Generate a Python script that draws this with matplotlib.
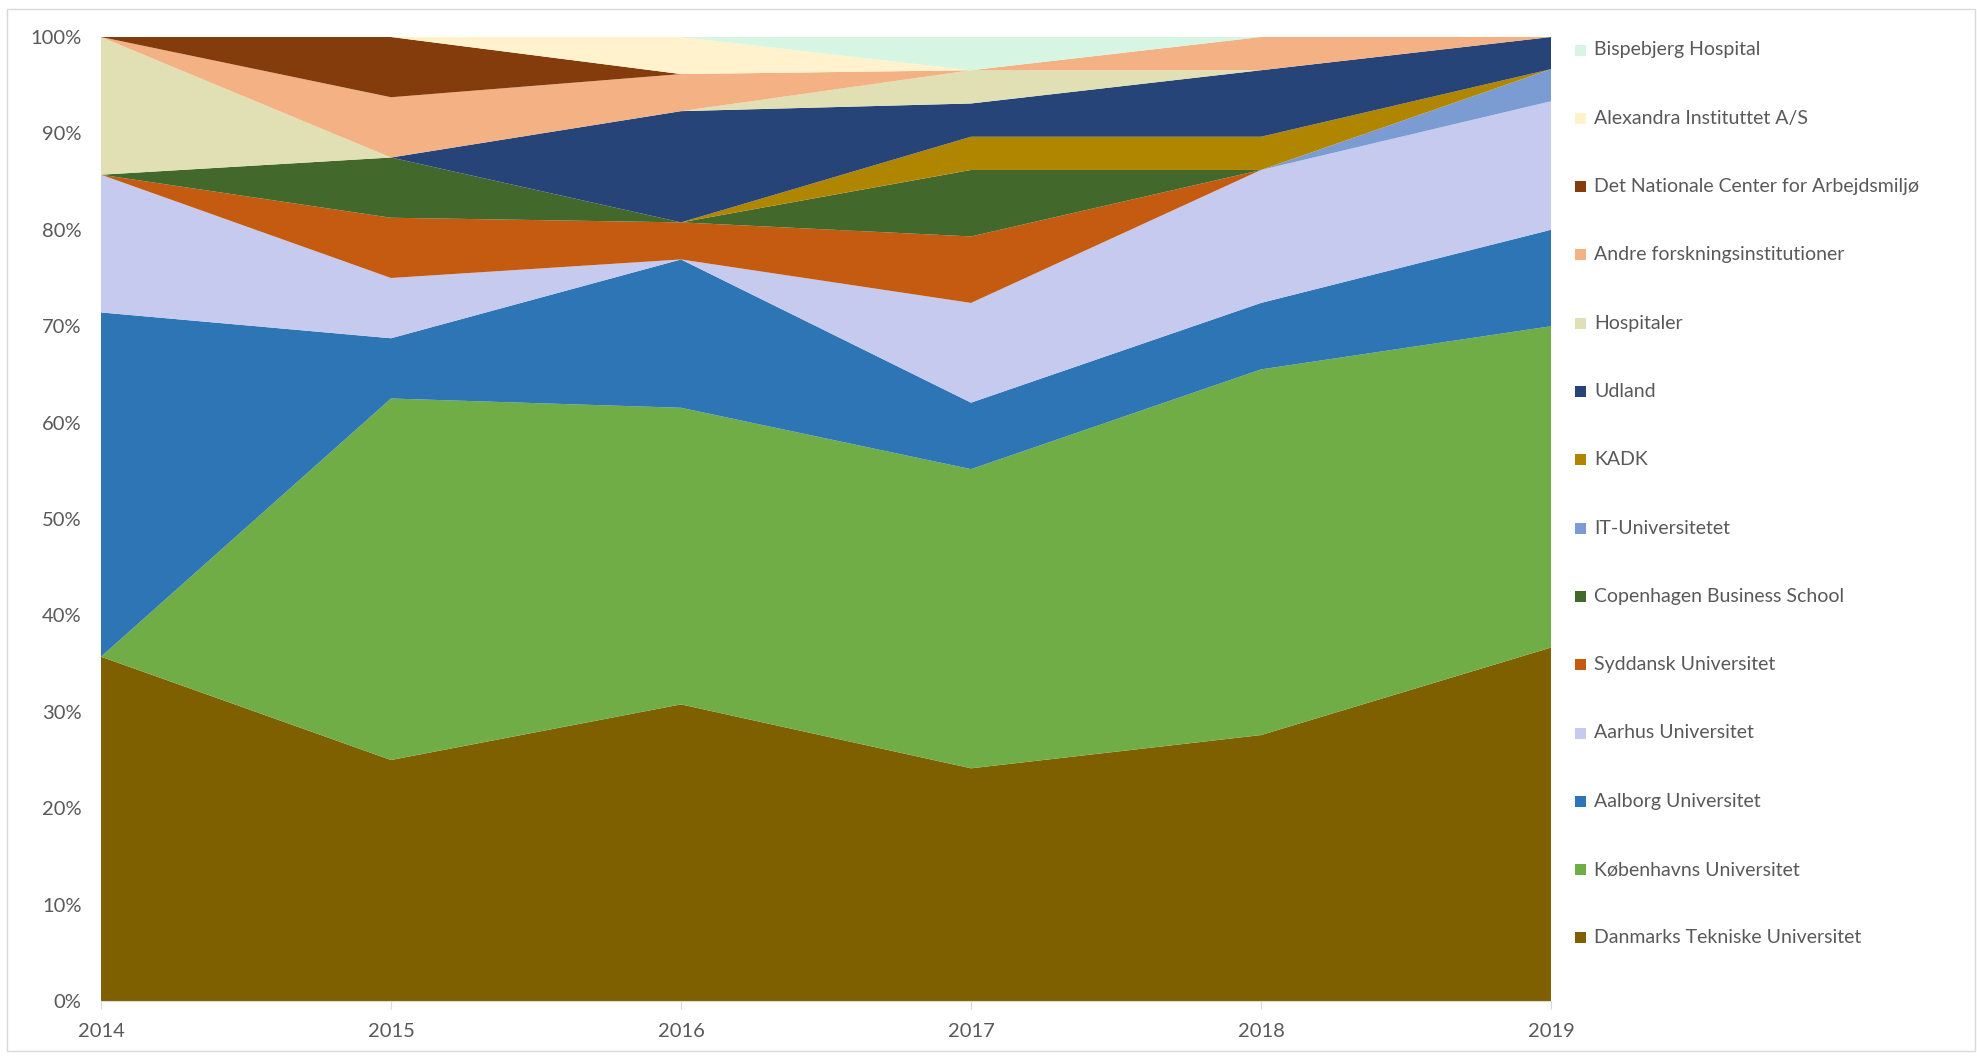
import numpy as np
import matplotlib.pyplot as plt
import matplotlib as mpl
from matplotlib.patches import Rectangle

mpl.rcParams['font.family'] = ['Lato', 'DejaVu Sans']

years = [2014, 2015, 2016, 2017, 2018, 2019]

# series, bottom to top of the stack (counts per year)
series_names = [
    "Danmarks Tekniske Universitet",
    "Københavns Universitet",
    "Aalborg Universitet",
    "Aarhus Universitet",
    "Syddansk Universitet",
    "Copenhagen Business School",
    "IT-Universitetet",
    "KADK",
    "Udland",
    "Hospitaler",
    "Andre forskningsinstitutioner",
    "Det Nationale Center for Arbejdsmiljø",
    "Alexandra Instituttet A/S",
    "Bispebjerg Hospital",
]
dtu        = [5, 4, 8, 7, 8, 11]
ku         = [0, 6, 8, 9, 11, 10]
aalborg    = [5, 1, 4, 2, 2, 3]
aarhus     = [2, 1, 0, 3, 4, 4]
sdu        = [0, 1, 1, 2, 0, 0]
cbs        = [0, 1, 0, 2, 0, 0]
itu        = [0, 0, 0, 0, 0, 1]
kadk       = [0, 0, 0, 1, 1, 0]
udland     = [0, 0, 3, 1, 2, 1]
hospitaler = [2, 0, 0, 1, 0, 0]
andre      = [0, 1, 1, 0, 1, 0]
nfa        = [0, 1, 0, 0, 0, 0]
alexandra  = [0, 0, 1, 0, 0, 0]
bispebjerg = [0, 0, 0, 1, 0, 0]

colors = ["#7F6000", "#70AD47", "#2E75B6", "#C5CAEE", "#C55A11", "#43682B",
          "#7B9CD3", "#B08500", "#264478", "#E1DFB4", "#F4B183", "#843C0C",
          "#FFF2CC", "#D6F5E3"]

counts = np.array([dtu, ku, aalborg, aarhus, sdu, cbs, itu, kadk, udland,
                   hospitaler, andre, nfa, alexandra, bispebjerg], dtype=float)
shares = counts / counts.sum(axis=0) * 100

W, H = 1977, 1059
fig = plt.figure(figsize=(W / 100, H / 100), dpi=100)
ax = fig.add_axes([101 / W, 1 - 1001 / H, (1551 - 101) / W, (1001 - 37) / H])

ax.stackplot(years, shares, colors=colors, linewidth=0, zorder=2)

ax.set_xlim(2014, 2019)
ax.set_ylim(0, 100)
ax.set_yticks(np.arange(0, 101, 10))
ax.set_yticklabels([f"{v}%" for v in range(0, 101, 10)])
ax.set_xticks(years)
ax.grid(axis='y', color='#D9D9D9', lw=1, zorder=0)
ax.set_axisbelow(True)
for s in ['top', 'right', 'left']:
    ax.spines[s].set_visible(False)
ax.spines['bottom'].set_color('#D9D9D9')
ax.spines['bottom'].set_zorder(3)
ax.tick_params(axis='y', length=0, pad=14, labelsize=14.5, labelcolor='#595959')
ax.tick_params(axis='x', length=6, color='#D9D9D9', pad=10, labelsize=14.5,
               labelcolor='#595959')

# legend, top entry = top of stack
y0, dy = 50, 68.3
for i, idx in enumerate(range(len(series_names) - 1, -1, -1)):
    yc = y0 + i * dy
    fig.add_artist(Rectangle(((1580 - 5.5) / W, 1 - (yc + 5.5) / H), 11 / W, 11 / H,
                             transform=fig.transFigure, color=colors[idx], lw=0))
    fig.text(1594 / W, 1 - yc / H, series_names[idx], fontsize=14,
             color='#595959', va='center', ha='left')

# chart border
fig.add_artist(Rectangle((7 / W, 1 - 1051 / H), (1975 - 7) / W, (1051 - 9) / H,
                         transform=fig.transFigure, fill=False,
                         edgecolor='#D9D9D9', lw=1))

fig.savefig("out.png", dpi=100)
